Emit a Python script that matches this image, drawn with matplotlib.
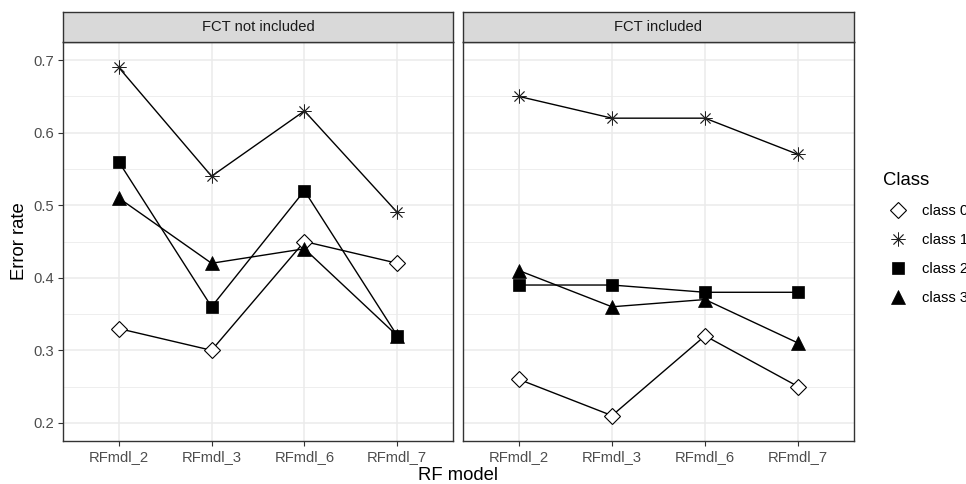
import matplotlib.pyplot as plt
from matplotlib.lines import Line2D
import numpy as np

plt.rcParams['font.family'] = ['Liberation Sans', 'DejaVu Sans']

models = ['RFmdl_2', 'RFmdl_3', 'RFmdl_6', 'RFmdl_7']
panels = ['FCT not included', 'FCT included']
classes = ['class 0', 'class 1', 'class 2', 'class 3']

# error rate per class, FCT not included
no_fct = {
    'class 0': [0.33, 0.30, 0.45, 0.42],
    'class 1': [0.69, 0.54, 0.63, 0.49],
    'class 2': [0.56, 0.36, 0.52, 0.32],
    'class 3': [0.51, 0.42, 0.44, 0.32],
}
# error rate per class, FCT included
with_fct = {
    'class 0': [0.26, 0.21, 0.32, 0.25],
    'class 1': [0.65, 0.62, 0.62, 0.57],
    'class 2': [0.39, 0.39, 0.38, 0.38],
    'class 3': [0.41, 0.36, 0.37, 0.31],
}

styles = {
    'class 0': dict(marker='D', ms=8.0, mfc='white', mec='black', mew=0.8),
    'class 1': dict(marker=(8, 2, 0), ms=10, mfc='none', mec='#222222', mew=0.6),
    'class 2': dict(marker='s', ms=8.8, mfc='black', mec='black', mew=0.5),
    'class 3': dict(marker='^', ms=10.5, mfc='black', mec='black', mew=0.5),
}

W, H = 966, 484
fig = plt.figure(figsize=(W / 100, H / 100), dpi=100)

def box(x0, y0, x1, y1):
    return [x0 / W, 1 - y1 / H, (x1 - x0) / W, (y1 - y0) / H]

panel_x = [(63, 453), (463, 854)]
x = np.arange(len(models))
tick_col = '#4D4D4D'

for i, (title, data) in enumerate(zip(panels, [no_fct, with_fct])):
    x0, x1 = panel_x[i]
    ax = fig.add_axes(box(x0, 42, x1, 441))
    ax.set_xlim(-0.6, 3.6)
    ax.set_ylim(0.175, 0.725)
    ax.set_yticks([0.2, 0.3, 0.4, 0.5, 0.6, 0.7])
    ax.set_yticks([0.25, 0.35, 0.45, 0.55, 0.65], minor=True)
    ax.set_xticks(x)
    ax.set_xticklabels(models)
    ax.grid(which='major', color='#EBEBEB', lw=1.1)
    ax.grid(which='minor', axis='y', color='#EBEBEB', lw=0.6)
    ax.set_axisbelow(True)
    for s in ax.spines.values():
        s.set_color('#333333')
        s.set_linewidth(1.0)
    ax.tick_params(axis='both', which='major', color='#333333', length=3.5,
                   width=0.8, labelsize=10.6, labelcolor=tick_col, pad=3)
    ax.tick_params(axis='y', which='minor', length=0)
    if i == 1:
        ax.tick_params(axis='y', which='major', length=0, labelleft=False)
    for c in classes:
        ax.plot(x, data[c], color='black', lw=1.0, zorder=2)
        ax.plot(x, data[c], ls='none', zorder=3, **styles[c])

    sax = fig.add_axes(box(x0, 12, x1, 42))
    sax.set_facecolor('#D9D9D9')
    sax.set_xticks([])
    sax.set_yticks([])
    for s in sax.spines.values():
        s.set_color('#333333')
        s.set_linewidth(1.0)
    sax.text(0.5, 0.5, title, ha='center', va='center', fontsize=10.6,
             color='#1A1A1A', transform=sax.transAxes)

fig.text(458 / W, 1 - 476 / H, 'RF model', ha='center', va='center', fontsize=13.3)
fig.text(20 / W, 1 - 241 / H, 'Error rate', ha='center', va='center',
         rotation=90, fontsize=13.3)

handles = [Line2D([], [], ls='none', **styles[c]) for c in classes]
leg = fig.legend(handles, classes, loc='upper left', bbox_to_anchor=(876 / W, 1 - 165 / H),
                 frameon=False, title='Class', fontsize=10.6, title_fontsize=13.3,
                 handletextpad=0.6, labelspacing=1.02, alignment='left', borderpad=0)

fig.savefig('out.png', dpi=100)
